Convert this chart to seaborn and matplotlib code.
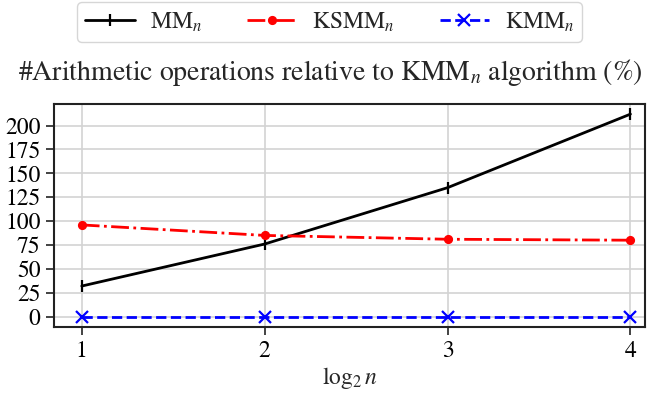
import seaborn as sns
import matplotlib.pyplot as plt
import pandas as pd
import numpy as np

log_n = [1, 2, 3, 4]
mm = [32, 76, 135, 212]
ksmm = [96, 85, 81, 80]
kmm = [0, 0, 0, 0]

sns.set_theme(style="ticks")
plt.rcParams['font.family'] = ['STIXGeneral', 'DejaVu Serif']
plt.rcParams['mathtext.fontset'] = 'stix'

fig, ax = plt.subplots(figsize=(6.47, 3.97), dpi=100)
fig.subplots_adjust(left=0.084, right=0.997, top=0.738, bottom=0.177)

series = [
    (r'MM$_n$', mm, 'black', '-', '|', 9),
    (r'KSMM$_n$', ksmm, 'red', '-.', '.', 10),
    (r'KMM$_n$', kmm, 'blue', '--', 'x', 9),
]
for name, vals, color, ls, mk, ms in series:
    df = pd.DataFrame({'x': log_n, 'y': vals})
    sns.lineplot(data=df, x='x', y='y', ax=ax, color=color, linestyle=ls,
                 marker=mk, markersize=ms, markeredgewidth=1.6,
                 markeredgecolor=color, markerfacecolor=color, linewidth=2,
                 label=name)

ax.set_xticks(log_n)
ax.set_yticks(np.arange(0, 201, 25))
ax.set_xlim(0.85, 4.08)
ax.grid(True, color='#d3d3d3', linewidth=1.2)
for s in ax.spines.values():
    s.set_color('#222222')
    s.set_linewidth(1.5)
ax.tick_params(labelsize=17, length=6, width=1.2, colors='#222222',
               labelcolor='black', pad=4)
ax.set_xlabel(r'$\log_2 n$', fontsize=17, labelpad=2)
ax.set_ylabel('')
ax.set_title(r'#Arithmetic operations relative to KMM$_n$ algorithm (%)',
             fontsize=20, pad=17, x=0.467)
ax.legend(loc='lower center', bbox_to_anchor=(0.466, 1.225), ncol=3, fontsize=17,
          frameon=True, handlelength=2.1, handletextpad=0.65, columnspacing=1.9,
          borderpad=0.35)

plt.savefig('out.png', dpi=100)
plt.close()
